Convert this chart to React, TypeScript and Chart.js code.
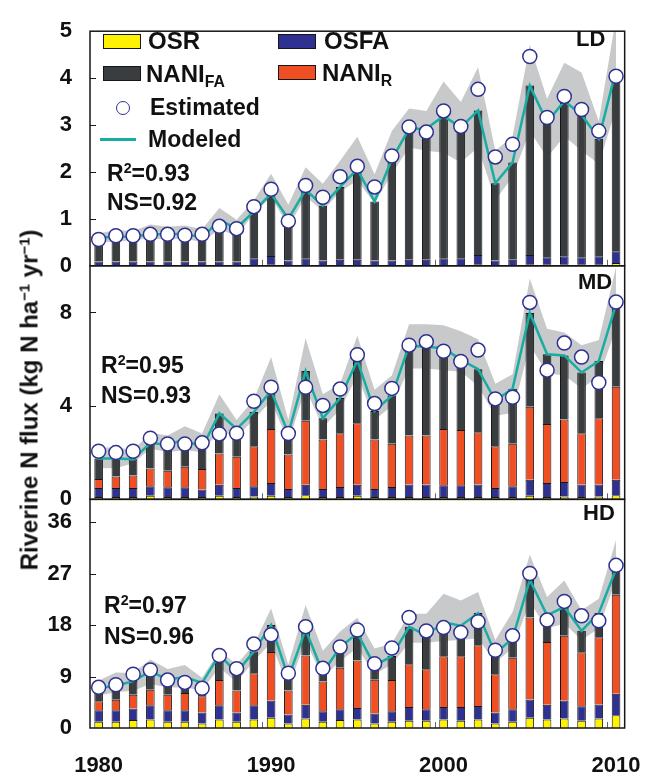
import { useEffect, useRef } from 'react';
import { Chart, registerables } from 'chart.js';

Chart.register(...registerables);

const FONT = "'Liberation Sans', Arial, Helvetica, sans-serif";

const years = [
  '1980', '1981', '1982', '1983', '1984', '1985', '1986', '1987', '1988', '1989',
  '1990', '1991', '1992', '1993', '1994', '1995', '1996', '1997', '1998', '1999',
  '2000', '2001', '2002', '2003', '2004', '2005', '2006', '2007', '2008', '2009', '2010',
];

// ---- LD ----
const ldOSR = [0.01, 0.01, 0.01, 0.01, 0.01, 0.01, 0.01, 0.01, 0.01, 0.01, 0.03, 0.01, 0.01, 0.01, 0.01, 0.01, 0.01, 0.01, 0.01, 0.01, 0.01, 0.01, 0.03, 0.01, 0.01, 0.03, 0.03, 0.03, 0.03, 0.03, 0.06];
const ldOSFA = [0.08, 0.08, 0.08, 0.08, 0.08, 0.08, 0.08, 0.08, 0.08, 0.15, 0.18, 0.1, 0.15, 0.1, 0.12, 0.12, 0.1, 0.1, 0.12, 0.12, 0.15, 0.15, 0.2, 0.1, 0.12, 0.2, 0.15, 0.17, 0.15, 0.17, 0.25];
const ldNaniR = [0, 0, 0, 0, 0, 0, 0, 0, 0, 0, 0, 0, 0, 0, 0, 0, 0, 0, 0, 0, 0, 0, 0, 0, 0, 0, 0, 0, 0, 0, 0];
const ldNaniFA = [0.51, 0.53, 0.53, 0.58, 0.58, 0.59, 0.51, 0.88, 0.71, 1.0, 1.33, 0.89, 1.46, 1.17, 1.55, 1.93, 1.26, 2.16, 2.79, 2.79, 3.03, 2.79, 3.08, 1.65, 2.07, 3.61, 2.88, 3.31, 3.04, 2.51, 3.86];
const ldModeled = [0.6, 0.62, 0.62, 0.67, 0.67, 0.68, 0.6, 0.97, 0.8, 1.16, 1.54, 1.0, 1.62, 1.28, 1.68, 2.06, 1.37, 2.27, 2.92, 2.92, 3.19, 2.95, 3.31, 1.76, 2.2, 3.84, 3.06, 3.51, 3.22, 2.71, 4.17];
const ldEstimated = [0.56, 0.64, 0.64, 0.67, 0.67, 0.65, 0.67, 0.84, 0.79, 1.26, 1.63, 0.95, 1.71, 1.46, 1.9, 2.12, 1.68, 2.34, 2.96, 2.85, 3.3, 2.97, 3.76, 2.32, 2.59, 4.46, 3.16, 3.61, 3.33, 2.87, 4.04];
const ldLower = [0.5, 0.51, 0.55, 0.58, 0.56, 0.58, 0.5, 0.78, 0.64, 1.11, 1.47, 0.83, 1.47, 1.17, 1.58, 1.82, 1.33, 1.96, 2.52, 2.45, 2.41, 2.2, 2.52, 1.4, 1.89, 2.87, 2.31, 2.76, 2.45, 2.17, 3.35];
const ldUpper = [0.69, 0.76, 0.74, 0.88, 0.83, 0.86, 0.78, 1.23, 0.98, 1.39, 1.96, 1.3, 2.1, 1.75, 2.24, 2.75, 1.95, 2.87, 3.35, 3.3, 3.93, 3.49, 4.23, 2.45, 2.76, 4.71, 3.56, 4.33, 4.12, 3.08, 5.3];

// ---- MD ----
const mdOSR = [0.1, 0.1, 0.1, 0.15, 0.1, 0.1, 0.1, 0.15, 0.1, 0.12, 0.15, 0.1, 0.18, 0.1, 0.1, 0.15, 0.1, 0.1, 0.1, 0.1, 0.1, 0.1, 0.1, 0.1, 0.1, 0.15, 0.1, 0.12, 0.1, 0.12, 0.18];
const mdOSFA = [0.38, 0.38, 0.38, 0.41, 0.42, 0.42, 0.32, 0.47, 0.38, 0.44, 0.55, 0.34, 0.44, 0.34, 0.43, 0.47, 0.34, 0.43, 0.54, 0.54, 0.5, 0.5, 0.54, 0.38, 0.46, 0.69, 0.6, 0.62, 0.54, 0.52, 0.66];
const mdNaniR = [0.39, 0.5, 0.54, 0.76, 0.7, 0.88, 0.88, 1.34, 1.34, 1.71, 2.31, 1.48, 2.74, 2.12, 2.3, 2.64, 2.12, 1.85, 2.09, 2.09, 2.41, 2.37, 2.23, 1.79, 1.82, 3.12, 2.52, 2.68, 2.19, 2.83, 3.98];
const mdNaniFA = [0.88, 0.77, 0.7, 1.09, 1.12, 1.16, 0.91, 1.72, 1.19, 1.47, 1.64, 0.9, 2.13, 0.91, 1.51, 2.69, 1.22, 2.06, 3.85, 3.8, 3.46, 3.01, 2.7, 1.96, 2.35, 4.02, 2.99, 2.74, 2.6, 2.45, 3.53];
const mdModeled = [1.75, 1.75, 1.72, 2.41, 2.34, 2.56, 2.21, 3.68, 3.01, 3.74, 4.65, 2.82, 5.49, 3.47, 4.34, 5.95, 3.78, 4.44, 6.58, 6.53, 6.47, 5.98, 5.57, 4.23, 4.73, 7.98, 6.21, 6.16, 5.43, 5.92, 8.35];
const mdEstimated = [2.06, 2.0, 2.06, 2.62, 2.37, 2.37, 2.42, 2.8, 2.83, 4.2, 4.8, 2.82, 4.8, 4.02, 4.72, 6.19, 4.1, 4.75, 6.6, 6.75, 6.34, 5.9, 6.39, 4.3, 4.37, 8.43, 5.53, 6.69, 6.09, 5.0, 8.45];
const mdLower = [1.33, 1.33, 1.54, 2.17, 2.03, 2.1, 2.03, 2.94, 2.66, 3.43, 4.2, 2.45, 4.76, 3.08, 3.85, 5.3, 3.4, 4.0, 5.6, 5.6, 5.53, 5.46, 4.85, 3.57, 3.71, 6.6, 5.4, 5.3, 4.76, 5.25, 7.3];
const mdUpper = [2.2, 2.24, 2.1, 2.85, 2.73, 3.13, 2.82, 4.5, 3.4, 4.27, 6.09, 3.4, 6.9, 4.5, 4.95, 7.0, 4.69, 5.3, 7.5, 7.5, 7.45, 7.2, 6.85, 4.95, 5.35, 9.45, 7.3, 7.14, 6.6, 6.82, 9.95];

// ---- HD ----
const hdOSR = [1.09, 1.09, 1.38, 1.5, 1.09, 1.09, 0.8, 1.5, 1.09, 1.5, 1.78, 0.8, 1.67, 1.09, 1.38, 1.5, 0.8, 1.09, 1.27, 1.27, 1.5, 1.27, 1.5, 0.8, 1.09, 1.78, 1.5, 1.67, 1.27, 1.67, 2.24];
const hdOSFA = [2.01, 2.01, 2.01, 2.46, 2.01, 2.01, 1.9, 2.46, 1.61, 2.46, 3.04, 1.55, 2.4, 1.84, 1.89, 2.0, 1.72, 1.84, 2.4, 2.0, 2.17, 2.4, 2.34, 1.9, 2.18, 3.21, 2.57, 3.15, 2.52, 2.46, 3.73];
const hdNaniR = [1.6, 1.84, 2.41, 2.75, 2.7, 3.04, 2.86, 4.42, 3.84, 5.62, 8.48, 4.19, 8.61, 5.22, 7.29, 8.32, 5.91, 5.45, 7.46, 7.0, 8.89, 8.89, 10.62, 6.71, 9.0, 14.34, 10.96, 11.3, 9.46, 11.76, 17.32];
const hdNaniFA = [2.3, 2.46, 2.4, 3.19, 2.7, 2.76, 2.34, 4.42, 3.16, 3.82, 4.7, 2.26, 4.52, 1.55, 3.54, 4.78, 2.47, 4.22, 6.57, 5.93, 5.94, 5.34, 5.64, 3.59, 3.43, 6.57, 4.67, 5.08, 3.75, 4.21, 4.51];
const hdModeled = [7.0, 7.4, 8.2, 9.9, 8.5, 8.9, 7.9, 12.8, 9.7, 13.4, 18.0, 8.8, 17.2, 9.7, 14.1, 16.6, 10.9, 12.6, 17.7, 16.2, 18.5, 17.9, 20.1, 13.0, 15.7, 25.9, 19.7, 21.2, 17.0, 20.1, 27.8];
const hdEstimated = [7.11, 7.57, 9.41, 10.15, 8.38, 7.97, 6.94, 12.68, 10.38, 14.68, 16.3, 9.58, 17.73, 10.44, 14.17, 17.15, 11.24, 14.0, 19.33, 16.98, 17.56, 16.7, 18.59, 13.6, 16.12, 27.02, 18.88, 22.15, 19.62, 18.76, 28.45];
const hdLower = [5.7, 6.25, 6.5, 7.7, 7.1, 7.1, 6.6, 10.6, 8.0, 11.7, 14.9, 7.1, 15.2, 8.8, 11.7, 14.0, 9.4, 11.1, 14.9, 14.9, 15.2, 15.4, 15.7, 11.4, 14.0, 22.0, 17.4, 18.3, 15.4, 17.4, 26.0];
const hdUpper = [8.3, 9.7, 9.6, 12.0, 10.3, 11.0, 8.8, 13.5, 11.1, 14.6, 20.9, 11.1, 21.5, 13.5, 16.9, 19.3, 13.9, 14.8, 20.0, 20.0, 23.5, 22.3, 23.8, 15.4, 20.3, 30.3, 22.9, 25.8, 20.6, 22.6, 32.9];

const YELLOW = '#FFF200';
const BLUE = '#2E3192';
const GRAY = '#3A3D40';
const ORANGE = '#F04E23';
const TEAL = '#17ADA3';
const BAND = '#C8C9CA';
const OUTLINE = '#161616';

function bar(data: number[], color: string, axis: string) {
  return {
    type: 'bar' as const,
    data,
    yAxisID: axis,
    stack: axis,
    grouped: false,
    backgroundColor: color,
    borderColor: OUTLINE,
    borderWidth: 1,
    barPercentage: 0.5,
    categoryPercentage: 1,
    order: 3,
  };
}

function panel(
  axis: string,
  osr: number[], osfa: number[], naniR: number[], naniFA: number[],
  modeled: number[], estimated: number[], lower: number[], upper: number[],
) {
  return [
    { type: 'line' as const, data: lower, yAxisID: axis, borderWidth: 0, borderColor: 'rgba(0,0,0,0)', pointRadius: 0, fill: false, order: 4 },
    { type: 'line' as const, data: upper, yAxisID: axis, borderWidth: 0, borderColor: 'rgba(0,0,0,0)', backgroundColor: BAND, pointRadius: 0, fill: '-1', order: 4 },
    bar(osr, YELLOW, axis),
    bar(osfa, BLUE, axis),
    bar(naniR, ORANGE, axis),
    bar(naniFA, GRAY, axis),
    { type: 'line' as const, data: modeled, yAxisID: axis, borderColor: TEAL, borderWidth: 2.5, pointRadius: 0, tension: 0, fill: false, order: 2 },
    {
      type: 'line' as const, data: estimated, yAxisID: axis, showLine: false, pointRadius: 7, pointBorderWidth: 1.5,
      pointBackgroundColor: '#ffffff', pointBorderColor: BLUE, order: 1,
    },
  ];
}

function yAxis(max: number, step: number, weight: number, stackWeight: number) {
  return {
    type: 'linear' as const,
    position: 'left' as const,
    stack: 'panels',
    stackWeight,
    weight,
    min: 0,
    max,
    border: { display: false },
    grid: { display: false, drawTicks: false },
    ticks: {
      stepSize: step,
      includeBounds: false,
      autoSkip: false,
      padding: 18,
      color: '#111',
      font: { family: FONT, size: 22, weight: 'bold' as const },
      callback: (v: any) => (Math.abs(v % step) < 1e-9 ? String(v) : ''),
    },
    afterFit: (s: any) => { s.width = 90; },
  };
}

// box around each panel, inward ticks on the value axis and decade marks on the base
const panelFrame = {
  id: 'panelFrame',
  afterDatasetsDraw(chart: any) {
    const { ctx, chartArea } = chart;
    const xs = chart.scales.x;
    ctx.save();
    for (const id of ['yLD', 'yMD', 'yHD']) {
      const s = chart.scales[id];
      const step = s.options.ticks.stepSize;
      ctx.strokeStyle = OUTLINE;
      ctx.lineWidth = 1.2;
      ctx.beginPath();
      for (const t of s.ticks) {
        if (t.value <= s.min || t.value >= s.max) continue;
        if (Math.abs(t.value % step) > 1e-9) continue;
        const py = Math.round(s.getPixelForValue(t.value)) + 0.5;
        ctx.moveTo(chartArea.left, py);
        ctx.lineTo(chartArea.left + 6, py);
      }
      ctx.stroke();
      ctx.strokeStyle = '#666';
      ctx.lineWidth = 1;
      ctx.beginPath();
      for (const i of [10, 20, 30]) {
        const px = Math.round((xs.getPixelForValue(i) + xs.getPixelForValue(i - 1)) / 2) + 0.5;
        ctx.moveTo(px, s.bottom);
        ctx.lineTo(px, s.bottom - 6);
      }
      ctx.stroke();
      ctx.strokeStyle = OUTLINE;
      ctx.lineWidth = 1.5;
      ctx.strokeRect(chartArea.left, s.top, chartArea.right - chartArea.left, s.bottom - s.top);
    }
    ctx.restore();
  },
};

const txt: any = {
  position: 'absolute',
  fontFamily: FONT,
  fontWeight: 'bold',
  fontSize: 23,
  lineHeight: '23px',
  color: '#111',
  whiteSpace: 'nowrap',
};

function Swatch({ left, top, color }: { left: number; top: number; color: string }) {
  return (
    <div style={{ position: 'absolute', left, top, width: 36, height: 13, background: color, border: `1px solid ${OUTLINE}` }} />
  );
}

function Label({ left, top, children, size = 23 }: any) {
  return <div style={{ ...txt, left, top, fontSize: size, lineHeight: `${size}px` }}>{children}</div>;
}

function Sup({ children }: any) {
  return <span style={{ fontSize: '0.62em', position: 'relative', top: '-0.55em' }}>{children}</span>;
}

function Sub({ children }: any) {
  return <span style={{ fontSize: '0.66em', position: 'relative', top: '0.32em' }}>{children}</span>;
}

export default function App() {
  const ref = useRef<HTMLCanvasElement | null>(null);

  useEffect(() => {
    if (!ref.current) return;
    const chart = new Chart(ref.current, {
      type: 'bar',
      data: {
        labels: years,
        datasets: [
          ...panel('yLD', ldOSR, ldOSFA, ldNaniR, ldNaniFA, ldModeled, ldEstimated, ldLower, ldUpper),
          ...panel('yMD', mdOSR, mdOSFA, mdNaniR, mdNaniFA, mdModeled, mdEstimated, mdLower, mdUpper),
          ...panel('yHD', hdOSR, hdOSFA, hdNaniR, hdNaniFA, hdModeled, hdEstimated, hdLower, hdUpper),
        ] as any,
      },
      options: {
        animation: false,
        responsive: false,
        devicePixelRatio: 1,
        layout: { padding: { top: 18, right: 30, left: 0, bottom: 0 } },
        plugins: { legend: { display: false }, tooltip: { enabled: false } },
        scales: {
          x: {
            type: 'category',
            offset: true,
            grid: { display: false, drawTicks: false },
            border: { display: false },
            ticks: {
              autoSkip: false,
              maxRotation: 0,
              padding: 25,
              color: '#111',
              font: { family: FONT, size: 22, weight: 'bold' },
              callback: (_v: any, i: number) => (Number(years[i]) % 10 === 0 ? years[i] : ''),
            },
            afterFit: (s: any) => { s.height = 48; },
          },
          yLD: yAxis(5, 1, 3, 239),
          yMD: yAxis(10, 4, 2, 238),
          yHD: yAxis(40, 9, 1, 233),
        } as any,
      },
      plugins: [panelFrame],
    });
    return () => chart.destroy();
  }, []);

  return (
    <div style={{ position: 'absolute', left: 0, top: 0, width: 666, height: 776, background: '#fff', overflow: 'hidden' }}>
      <canvas ref={ref} width={666} height={776} style={{ position: 'absolute', left: 0, top: 0 }} />

      {/* y-axis title */}
      <div
        style={{
          ...txt,
          fontSize: 24,
          lineHeight: '24px',
          left: 31,
          top: 400,
          transform: 'translate(-50%, -50%) rotate(-90deg)',
        }}
      >
        Riverine N flux (kg N ha<Sup>−1</Sup> yr<Sup>−1</Sup>)
      </div>

      {/* legend */}
      <Swatch left={103} top={34} color={YELLOW} />
      <Label left={148} top={29} size={24}>OSR</Label>
      <Swatch left={278} top={34} color={BLUE} />
      <Label left={324} top={29} size={24}>OSFA</Label>
      <Swatch left={103} top={66} color={GRAY} />
      <Label left={146} top={62} size={24}>NANI<Sub>FA</Sub></Label>
      <Swatch left={278} top={65} color={ORANGE} />
      <Label left={322} top={61} size={24}>NANI<Sub>R</Sub></Label>
      <div style={{ position: 'absolute', left: 116, top: 101, width: 12, height: 12, borderRadius: '50%', background: '#fff', border: `1.5px solid ${BLUE}` }} />
      <Label left={150} top={96}>Estimated</Label>
      <div style={{ position: 'absolute', left: 100, top: 138, width: 36, height: 3, background: TEAL }} />
      <Label left={148} top={128}>Modeled</Label>

      {/* panel names and fit statistics */}
      <Label left={576} top={28} size={22}>LD</Label>
      <Label left={578} top={271} size={22}>MD</Label>
      <Label left={583} top={502} size={22}>HD</Label>

      <Label left={107} top={162}>R<Sup>2</Sup>=0.93</Label>
      <Label left={107} top={191}>NS=0.92</Label>
      <Label left={101} top={354}>R<Sup>2</Sup>=0.95</Label>
      <Label left={101} top={384}>NS=0.93</Label>
      <Label left={104} top={594}>R<Sup>2</Sup>=0.97</Label>
      <Label left={104} top={625}>NS=0.96</Label>
    </div>
  );
}
